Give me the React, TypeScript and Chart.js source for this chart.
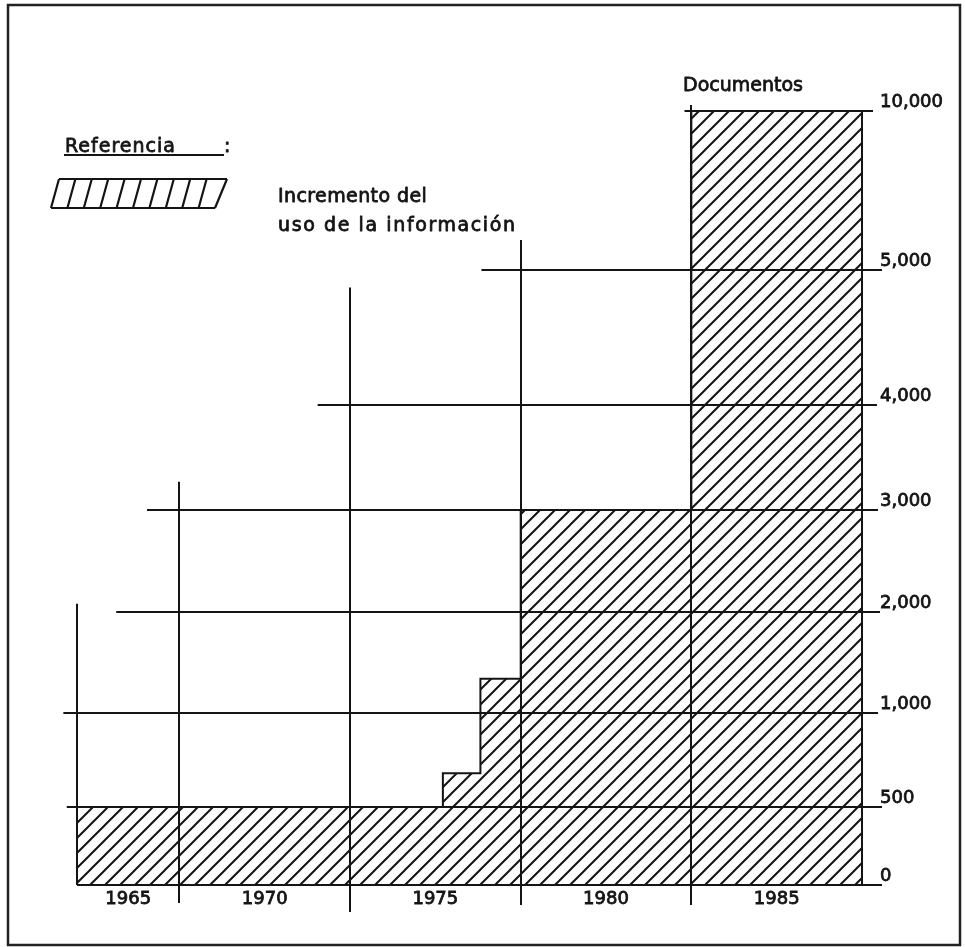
import React, { useEffect, useRef } from 'react';
import { Chart, registerables, LinearScale } from 'chart.js';

Chart.register(...registerables);

// ---------------- data ----------------
const periodEdges = [1964.5, 1967.5, 1972.5, 1977.5, 1982.5, 1987.5];
const periodLabels = ['1965', '1970', '1975', '1980', '1985'];
const stepYears = [1964.5, 1975.22, 1976.32, 1977.5, 1982.5, 1987.5];
const documentos = [500, 680, 1340, 3000, 10000, 10000];
const yTickValues = [0, 500, 1000, 2000, 3000, 4000, 5000, 10000];
const yTickLabels = ['0', '500', '1,000', '2,000', '3,000', '4,000', '5,000', '10,000'];
const axisTitle = 'Documentos';
const legendTitle = 'Referencia';
const legendLines = ['Incremento del', 'uso de la información'];

// ---------------- hand-drawn (non-uniform) vertical axis ----------------
const Y_FRACTIONS = [0, 0.1008, 0.2222, 0.3527, 0.4845, 0.62, 0.7946, 1];

class SegmentedScale extends LinearScale {
  static id = 'segmented';
  static defaults = {};
  getPixelForValue(value: any) {
    if (value === null || value === undefined || isNaN(value)) return NaN;
    const v = yTickValues;
    const f = Y_FRACTIONS;
    let i = 0;
    while (i < v.length - 2 && value > v[i + 1]) i++;
    const t = (value - v[i]) / (v[i + 1] - v[i]);
    return (this as any).getPixelForDecimal(f[i] + t * (f[i + 1] - f[i]));
  }
  getValueForPixel(pixel: number) {
    const d = (this as any).getDecimalForPixel(pixel);
    const v = yTickValues;
    const f = Y_FRACTIONS;
    let i = 0;
    while (i < f.length - 2 && d > f[i + 1]) i++;
    const t = (d - f[i]) / (f[i + 1] - f[i]);
    return v[i] + t * (v[i + 1] - v[i]);
  }
}
Chart.register(SegmentedScale as any);

// ---------------- styling of the staircase grid ----------------
const gridStyle = {
  hStart: [1964.5, 1964.2, 1964.1, 1965.65, 1966.55, 1971.55, 1976.35, 1982.3],
  hOverrun: [20, 20, 16, 18, 16, 15, 20, 11],
  vTop: [2080, 3270, 4870, 5940, 10000, 10000],
  vTopExtra: [0, 0, 0, 0, 6, 0],
  vBelow: [0, 18, 27, 20, 20, 0],
};

const INK = '#141414';
const FONT = '"DejaVu Sans", sans-serif';

function makeHatch(ctx: CanvasRenderingContext2D) {
  const s = 15;
  const c = document.createElement('canvas');
  c.width = s;
  c.height = s;
  const g = c.getContext('2d')!;
  g.fillStyle = '#ffffff';
  g.fillRect(0, 0, s, s);
  g.strokeStyle = INK;
  g.lineWidth = 2;
  g.beginPath();
  g.moveTo(-2, s + 2);
  g.lineTo(s + 2, -2);
  g.moveTo(-2, 2);
  g.lineTo(2, -2);
  g.moveTo(s - 2, s + 2);
  g.lineTo(s + 2, s - 2);
  g.stroke();
  return ctx.createPattern(c, 'repeat');
}

const staircaseGrid = {
  id: 'staircaseGrid',
  afterDatasetsDraw(chart: any) {
    const { ctx, scales, chartArea } = chart;
    const x = scales.x;
    const y = scales.y;
    ctx.save();
    ctx.strokeStyle = INK;
    ctx.lineWidth = 2;
    ctx.beginPath();
    yTickValues.forEach((v, i) => {
      const py = Math.round(y.getPixelForValue(v));
      ctx.moveTo(x.getPixelForValue(gridStyle.hStart[i]), py);
      ctx.lineTo(chartArea.right + gridStyle.hOverrun[i], py);
    });
    periodEdges.forEach((e, i) => {
      const px = Math.round(x.getPixelForValue(e));
      ctx.moveTo(px, y.getPixelForValue(gridStyle.vTop[i]) - gridStyle.vTopExtra[i]);
      ctx.lineTo(px, chartArea.bottom + gridStyle.vBelow[i]);
    });
    ctx.stroke();
    ctx.restore();
  },
};

function inkText(ctx: CanvasRenderingContext2D, text: string, x: number, y: number) {
  ctx.fillText(text, x, y);
  ctx.strokeText(text, x, y);
}

const annotations = {
  id: 'annotations',
  afterDraw(chart: any) {
    const { ctx } = chart;
    ctx.save();
    // frame
    ctx.strokeStyle = '#222';
    ctx.lineWidth = 2.5;
    ctx.strokeRect(8, 5, 952, 940);

    ctx.fillStyle = INK;
    ctx.strokeStyle = INK;
    ctx.textBaseline = 'alphabetic';
    ctx.textAlign = 'left';
    ctx.font = `19px ${FONT}`;
    ctx.lineJoin = 'round';

    // legend title
    ctx.lineWidth = 0.8;
    (ctx as any).letterSpacing = '1px';
    inkText(ctx, legendTitle, 65, 152);
    inkText(ctx, ':', 224, 152);
    ctx.lineWidth = 2;
    ctx.beginPath();
    ctx.moveTo(64, 155);
    ctx.lineTo(224, 155);
    ctx.stroke();

    // legend swatch (slanted hatch)
    const bx = 51, by = 208, h = 29, w = 164, slant = 8, n = 10;
    ctx.lineWidth = 2.2;
    ctx.beginPath();
    ctx.moveTo(bx, by);
    ctx.lineTo(bx + w, by);
    ctx.moveTo(bx + slant, by - h);
    ctx.lineTo(bx + w + slant + 4, by - h);
    for (let k = 0; k <= n; k++) {
      const xb = bx + (k * w) / n;
      ctx.moveTo(xb, by);
      ctx.lineTo(xb + slant + (k === n ? 4 : 0), by - h);
    }
    ctx.stroke();

    // legend text
    ctx.lineWidth = 0.8;
    (ctx as any).letterSpacing = '0.4px';
    inkText(ctx, legendLines[0], 278, 202);
    (ctx as any).letterSpacing = '1.6px';
    inkText(ctx, legendLines[1], 278, 231);

    // axis title
    (ctx as any).letterSpacing = '0px';
    inkText(ctx, axisTitle, 683, 91);
    ctx.restore();
  },
};

export default function App() {
  const canvasRef = useRef<HTMLCanvasElement | null>(null);

  useEffect(() => {
    const canvas = canvasRef.current!;
    const ctx = canvas.getContext('2d')!;
    const hatch = makeHatch(ctx);

    const chart = new Chart(ctx, {
      type: 'line',
      data: {
        datasets: [
          {
            label: legendLines.join(' '),
            data: stepYears.map((yr, i) => ({ x: yr, y: documentos[i] })),
            stepped: 'before',
            fill: 'origin',
            backgroundColor: hatch as any,
            borderColor: INK,
            borderWidth: 2,
            pointRadius: 0,
            clip: 6,
          } as any,
        ],
      },
      options: {
        animation: false,
        responsive: true,
        maintainAspectRatio: false,
        layout: { padding: { left: 77, top: 111, right: 0, bottom: 0 } },
        plugins: {
          legend: { display: false },
          title: { display: false },
          tooltip: { enabled: false },
        },
        scales: {
          x: {
            type: 'linear',
            position: 'bottom',
            min: periodEdges[0],
            max: periodEdges[periodEdges.length - 1],
            border: { display: false },
            grid: { display: false, drawTicks: false },
            afterBuildTicks: (scale: any) => {
              scale.ticks = periodLabels.map((_, i) => ({
                value: (periodEdges[i] + periodEdges[i + 1]) / 2,
              }));
            },
            afterFit: (scale: any) => {
              scale.height = 62;
            },
            ticks: {
              autoSkip: false,
              maxRotation: 0,
              padding: 4,
              color: INK,
              textStrokeColor: INK,
              textStrokeWidth: 0.8,
              font: { family: FONT, size: 18 },
              callback: (_v: any, i: number) => periodLabels[i],
            },
          } as any,
          y: {
            type: 'segmented' as any,
            position: 'right',
            min: 0,
            max: 10000,
            border: { display: false },
            grid: { display: false, drawTicks: false },
            afterBuildTicks: (scale: any) => {
              scale.ticks = yTickValues.map((v) => ({ value: v }));
            },
            afterFit: (scale: any) => {
              scale.width = 103;
            },
            ticks: {
              autoSkip: false,
              padding: 18,
              labelOffset: -9,
              color: INK,
              textStrokeColor: INK,
              textStrokeWidth: 0.8,
              font: { family: FONT, size: 18 },
              callback: (_v: any, i: number) => yTickLabels[i],
            },
          } as any,
        },
      },
      plugins: [staircaseGrid, annotations],
    });

    return () => chart.destroy();
  }, []);

  return (
    <div
      style={{
        position: 'fixed',
        left: 0,
        top: 0,
        width: 965,
        height: 947,
        background: '#ffffff',
      }}
    >
      <canvas ref={canvasRef} />
    </div>
  );
}
